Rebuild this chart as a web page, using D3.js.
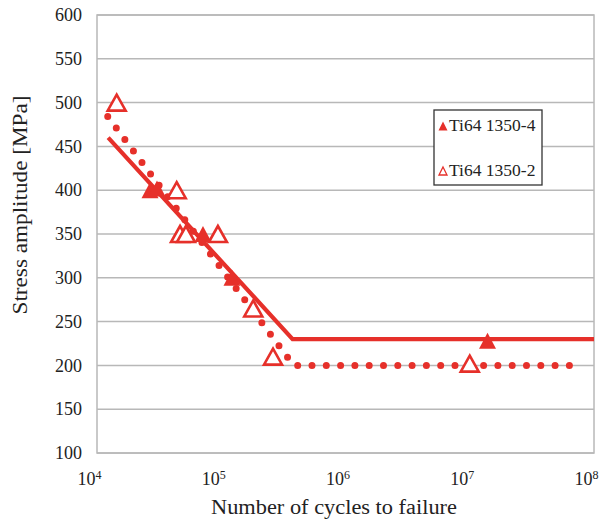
<!DOCTYPE html>
<html>
<head>
<meta charset="utf-8">
<script src="https://cdn.jsdelivr.net/npm/d3@7"></script>
<style>
  html, body { margin: 0; padding: 0; background: #fff; }
  svg { display: block; }
  svg text { font-family: "Liberation Serif", "DejaVu Serif", serif !important; }
</style>
</head>
<body>
<svg id="chart" width="605" height="521"></svg>
<script>
// S-N data for Ti64 specimens
const xTickValues = [1e4, 1e5, 1e6, 1e7, 1e8];
const xTickExponents = ["4", "5", "6", "7", "8"];
const yTickValues = [100, 150, 200, 250, 300, 350, 400, 450, 500, 550, 600];

const seriesNames = ["Ti64 1350-4", "Ti64 1350-2"];

// Ti64 1350-4 (filled triangles)
const cycles4 = [2.67e4, 3.04e4, 7.13e4, 1.22e5, 1.39e7];
const stress4 = [400, 402, 350, 300, 228];

// Ti64 1350-2 (open triangles)
const cycles2 = [1.44e4, 4.38e4, 4.66e4, 5.2e4, 9.4e4, 1.81e5, 2.61e5, 1.0e7];
const stress2 = [500, 400, 350, 350, 350, 265, 210, 202];

// Fitted curves: sloped part and fatigue limit
const fitCycles4 = [1.23e4, 3.75e5, 1e8];
const fitStress4 = [460, 230, 230];
const fitCycles2 = [1.22e4, 3.83e5, 7.8e7];
const fitStress2 = [484, 200, 200];

const red = "#e6302a";
const grid = "#b8b8b8";
const ink = "#222";

const svg = d3.select("#chart");
const plotLeft = 97, plotRight = 594, plotTop = 15, plotBottom = 453;

const x = d3.scaleLog().domain([1e4, 1e8]).range([plotLeft, plotRight]);
const y = d3.scaleLinear().domain([100, 600]).range([plotBottom, plotTop]);

// horizontal gridlines
svg.append("g")
  .selectAll("line")
  .data(yTickValues)
  .join("line")
  .attr("x1", plotLeft).attr("x2", plotRight)
  .attr("y1", d => y(d)).attr("y2", d => y(d))
  .attr("stroke", grid).attr("stroke-width", 1.5);

// plot frame
svg.append("rect")
  .attr("x", plotLeft).attr("y", plotTop)
  .attr("width", plotRight - plotLeft).attr("height", plotBottom - plotTop)
  .attr("fill", "none").attr("stroke", grid).attr("stroke-width", 1.5);

// y axis labels
const yAxis = svg.append("g")
  .attr("transform", `translate(${plotLeft},0)`)
  .call(d3.axisLeft(y).tickValues(yTickValues).tickSize(0).tickPadding(15).tickFormat(d3.format("d")));
yAxis.select(".domain").remove();
yAxis.selectAll("text")
  .attr("font-size", 18).attr("fill", ink);

// x axis labels as powers of ten
const xAxis = svg.append("g")
  .attr("transform", `translate(0,${plotBottom})`)
  .call(d3.axisBottom(x).tickValues(xTickValues).tickSize(0).tickPadding(19).tickFormat(() => ""));
xAxis.select(".domain").remove();
xAxis.selectAll("text")
  .attr("font-size", 18).attr("fill", ink)
  .attr("x", -8)
  .each(function(d, i) {
    const t = d3.select(this);
    t.append("tspan").text("10");
    t.append("tspan").attr("dy", "-0.45em").attr("font-size", 12).text(xTickExponents[i]);
  });

// axis titles
svg.append("text")
  .attr("x", 334).attr("y", 514)
  .attr("text-anchor", "middle")
  .attr("font-size", 20.5).attr("fill", ink)
  .attr("textLength", 246).attr("lengthAdjust", "spacingAndGlyphs")
  .text("Number of cycles to failure");

svg.append("text")
  .attr("transform", `translate(27,205) rotate(-90)`)
  .attr("text-anchor", "middle")
  .attr("font-size", 20.5).attr("fill", ink)
  .attr("textLength", 219).attr("lengthAdjust", "spacingAndGlyphs")
  .text("Stress amplitude [MPa]");

// fitted curves
const line = d3.line().x(d => x(d[0])).y(d => y(d[1]));

svg.append("path")
  .datum(d3.zip(fitCycles2, fitStress2))
  .attr("d", line)
  .attr("fill", "none").attr("stroke", red)
  .attr("stroke-width", 7).attr("stroke-linecap", "round")
  .attr("stroke-dasharray", "0 14.3");

svg.append("path")
  .datum(d3.zip(fitCycles4, fitStress4))
  .attr("d", line)
  .attr("fill", "none").attr("stroke", red)
  .attr("stroke-width", 4.2);

// triangle marker path centred in its bounding box
function tri(w, h) {
  return `M0,${-h / 2}L${w / 2},${h / 2}L${-w / 2},${h / 2}Z`;
}

svg.append("g")
  .selectAll("path")
  .data(d3.zip(cycles2, stress2))
  .join("path")
  .attr("transform", d => `translate(${x(d[0])},${y(d[1])})`)
  .attr("d", tri(18, 16))
  .attr("fill", "#fff").attr("stroke", red).attr("stroke-width", 2.6)
  .attr("stroke-linejoin", "miter");

svg.append("g")
  .selectAll("path")
  .data(d3.zip(cycles4, stress4))
  .join("path")
  .attr("transform", d => `translate(${x(d[0])},${y(d[1])})`)
  .attr("d", tri(17, 16))
  .attr("fill", red);

// legend
const lg = svg.append("g");
lg.append("rect")
  .attr("x", 434).attr("y", 110).attr("width", 108).attr("height", 75)
  .attr("fill", "#fff").attr("stroke", "#333").attr("stroke-width", 1.3);

lg.append("path").attr("transform", "translate(443,126)").attr("d", tri(9, 9)).attr("fill", red);
lg.append("path").attr("transform", "translate(443,171)").attr("d", tri(8, 8))
  .attr("fill", "#fff").attr("stroke", red).attr("stroke-width", 1.3);

lg.append("text").attr("x", 449).attr("y", 131).attr("font-size", 17.5).attr("fill", ink).text(seriesNames[0]);
lg.append("text").attr("x", 449).attr("y", 176).attr("font-size", 17.5).attr("fill", ink).text(seriesNames[1]);
</script>
</body>
</html>
